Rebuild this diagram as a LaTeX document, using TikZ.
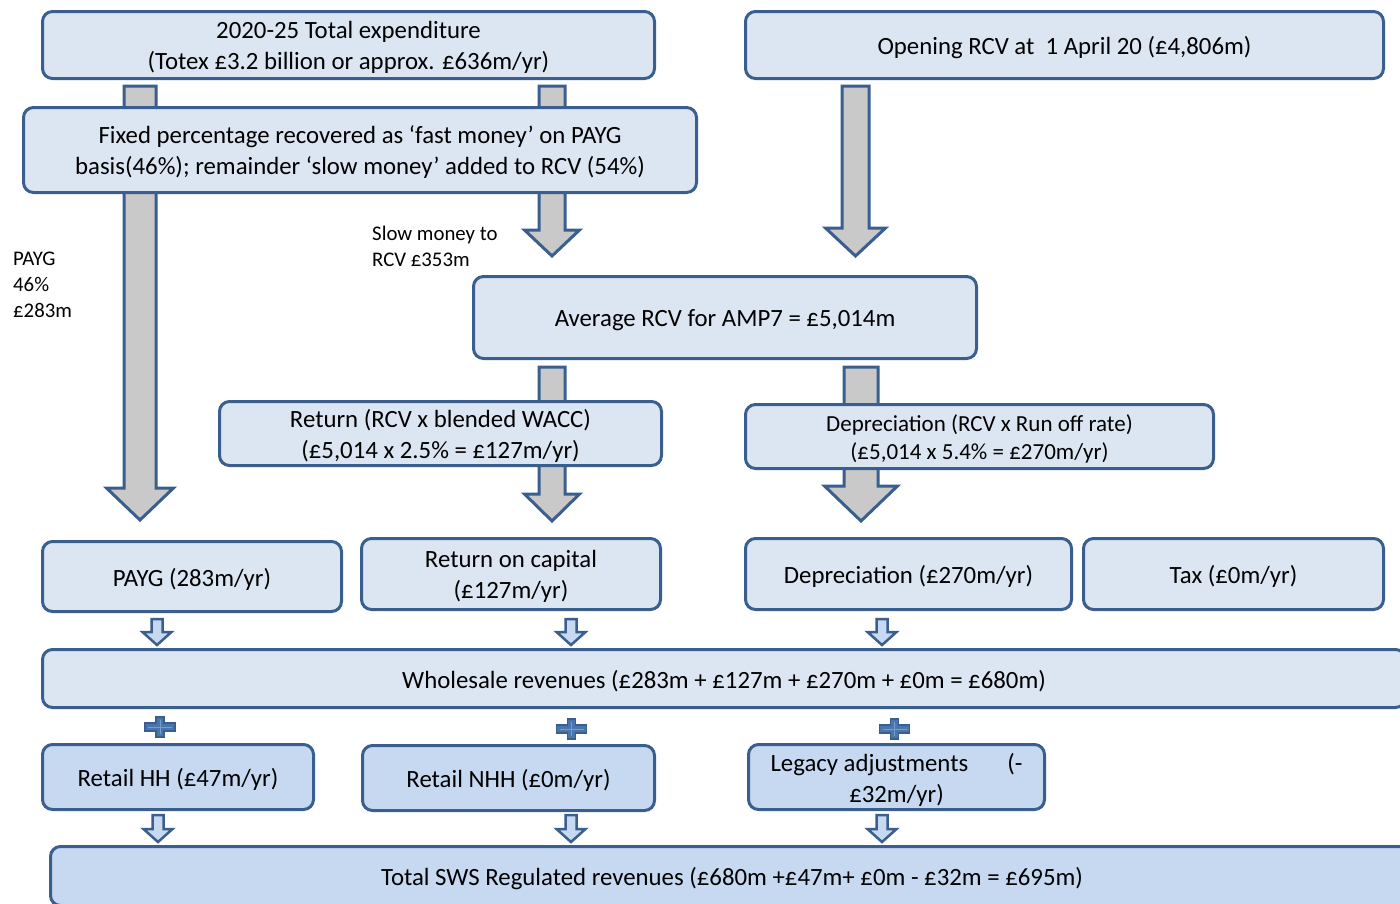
\documentclass[tikz,border=0pt]{standalone}
\usepackage{fontspec}
\setmainfont{Carlito}
\usetikzlibrary{calc,backgrounds}
\definecolor{bord}{HTML}{3A5F8E}
\definecolor{lite}{HTML}{DCE6F2}
\definecolor{mid}{HTML}{C6D9F1}
\definecolor{grayar}{HTML}{C9C9C9}
\definecolor{plusc}{HTML}{4A76AE}
\definecolor{plusl}{HTML}{7A9CC9}
\tikzset{
 box/.style={draw=bord, line width=3pt, rounded corners=10pt, fill=lite, inner sep=0pt},
 boxm/.style={box, fill=mid},
 txt/.style={align=center, inner sep=0pt, font=\fontsize{24.8}{31}\selectfont},
 txts/.style={txt, font=\fontsize{23}{28}\selectfont},
 barrow/.style={draw=bord, line width=3pt, fill=grayar, line join=miter},
 sarrow/.style={draw=bord, line width=2.5pt, fill=mid, line join=miter},
 pluss/.style={draw=bord, line width=1.5pt, fill=plusc},
 plusline/.style={draw=plusl, line width=0.8pt},
 lbl/.style={anchor=north west, align=left, inner sep=0pt, font=\fontsize{20.8}{26}\selectfont},
}
% block arrow: [style] start, tip, shaft half width, head half width, head length
\newcommand\blockarrow[6][barrow]{%
 \draw[#1] let \p1=(#2), \p2=(#3) in
 (\x1-#4,\y1) -- (\x1+#4,\y1) -- (\x1+#4,\y2+#6) -- (\x1+#5,\y2+#6) -- (\x2,\y2)
 -- (\x1-#5,\y2+#6) -- (\x1-#4,\y2+#6) -- cycle;
}
\newcommand\plussign[1]{%
 \draw[pluss, shift={(#1)}] (-4,-10) -- (4,-10) -- (4,-4) -- (15,-4) -- (15,4) -- (4,4)
 -- (4,10) -- (-4,10) -- (-4,4) -- (-15,4) -- (-15,-4) -- (-4,-4) -- cycle;
 \draw[plusline, shift={(#1)}] (-12,0) -- (12,0) (0,-7) -- (0,7);
}
% text of a box, set slightly below its centre
\newcommand\boxtext[3][txt]{\node[#1] (#2-t) at ([yshift=-2.5pt]#2.center) {#3};}
\begin{document}
\begin{tikzpicture}[x=1pt,y=-1pt]
\useasboundingbox (0,0) rectangle (1400,903);
\clip (0,0) rectangle (1400,903);

% boxes
\node[box, minimum width=612pt, minimum height=67pt] (tot) at (348.5,45) {};
\node[box, minimum width=638pt, minimum height=67pt] (open) at (1064.5,45) {};
\node[box, minimum width=673pt, minimum height=85pt] (fixed) at (360,150) {};
\node[box, minimum width=503pt, minimum height=82pt] (avg) at (725,317.5) {};
\node[box, minimum width=442pt, minimum height=64pt] (ret) at (440.5,433.5) {};
\node[box, minimum width=468pt, minimum height=64pt] (depc) at (979.5,436.5) {};
\node[box, minimum width=299pt, minimum height=70pt] (payg) at (192,576.5) {};
\node[box, minimum width=299pt, minimum height=71pt] (roc) at (511,574) {};
\node[box, minimum width=326pt, minimum height=71pt] (dep) at (908.5,574) {};
\node[box, minimum width=300pt, minimum height=71pt] (tax) at (1233.5,574) {};
\node[box, minimum width=1363pt, minimum height=58pt] (whole) at (724,678.5) {};
\node[boxm, minimum width=271pt, minimum height=65pt] (rhh) at (178,777) {};
\node[boxm, minimum width=292pt, minimum height=65pt] (rnhh) at (508.5,778) {};
\node[boxm, minimum width=296pt, minimum height=65pt] (leg) at (896.5,777) {};
\node[boxm, minimum width=1363pt, minimum height=59pt] (total) at (732,876) {};

\boxtext{tot}{2020-25 Total expenditure\\(Totex £3.2 billion or approx. £636m/yr)}
\boxtext{open}{Opening RCV at\ \ 1 April 20 (£4,806m)}
\boxtext{fixed}{Fixed percentage recovered as ‘fast money’ on PAYG\\basis(46\%); remainder ‘slow money’ added to RCV (54\%)}
\boxtext{avg}{Average RCV for AMP7 = £5,014m}
\boxtext{ret}{Return (RCV x blended WACC)\\(£5,014 x 2.5\% = £127m/yr)}
\boxtext[txts]{depc}{Depreciation (RCV x Run off rate)\\(£5,014 x 5.4\% = £270m/yr)}
\boxtext{payg}{PAYG (283m/yr)}
\boxtext{roc}{Return on capital\\(£127m/yr)}
\boxtext{dep}{Depreciation (£270m/yr)}
\boxtext{tax}{Tax (£0m/yr)}
\boxtext{whole}{Wholesale revenues (£283m + £127m + £270m + £0m = £680m)}
\boxtext{rhh}{Retail HH (£47m/yr)}
\boxtext{rnhh}{Retail NHH (£0m/yr)}
\boxtext{leg}{\makebox[252pt]{Legacy adjustments\hfill(-}\\£32m/yr)}
\boxtext{total}{Total SWS Regulated revenues (£680m +£47m+ £0m - £32m = £695m)}

% labels
\node[lbl] (lpayg) at (13,251.5) {PAYG\\46\%\\£283m};
\node[lbl] (lslow) at (372,226) {Slow money to\\RCV £353m};

% big block arrows behind boxes
\coordinate (a1s) at (140,86);  \coordinate (a1t) at (140,520);
\coordinate (a2s) at (552,86);  \coordinate (a2t) at (552,256);
\coordinate (a3s) at (855.5,86); \coordinate (a3t) at (855.5,256);
\coordinate (a4s) at (552,367); \coordinate (a4t) at (552,521);
\coordinate (a5s) at (861,367); \coordinate (a5t) at (861,521);
\begin{scope}[on background layer]
\blockarrow{a1s}{a1t}{16pt}{33.5pt}{32pt}
\blockarrow{a2s}{a2t}{13pt}{27.5pt}{26pt}
\blockarrow{a3s}{a3t}{13.5pt}{30pt}{28pt}
\blockarrow{a4s}{a4t}{13pt}{27.5pt}{27pt}
\blockarrow{a5s}{a5t}{17pt}{36.5pt}{35pt}
\end{scope}

% small arrows
\coordinate (s1s) at (157,619); \coordinate (s1t) at (157,645);
\coordinate (s2s) at (571,619); \coordinate (s2t) at (571,645);
\coordinate (s3s) at (882,619); \coordinate (s3t) at (882,645);
\coordinate (s4s) at (158,815); \coordinate (s4t) at (158,842);
\coordinate (s5s) at (571,815); \coordinate (s5t) at (571,842);
\coordinate (s6s) at (882,815); \coordinate (s6t) at (882,842);
\foreach \k in {1,...,6}{\blockarrow[sarrow]{s\k s}{s\k t}{5.5pt}{14.5pt}{13pt}}

% plus signs
\coordinate (p1) at (160,727);
\coordinate (p2) at (571.5,729);
\coordinate (p3) at (894.5,729);
\plussign{p1}
\plussign{p2}
\plussign{p3}
\end{tikzpicture}
\end{document}
